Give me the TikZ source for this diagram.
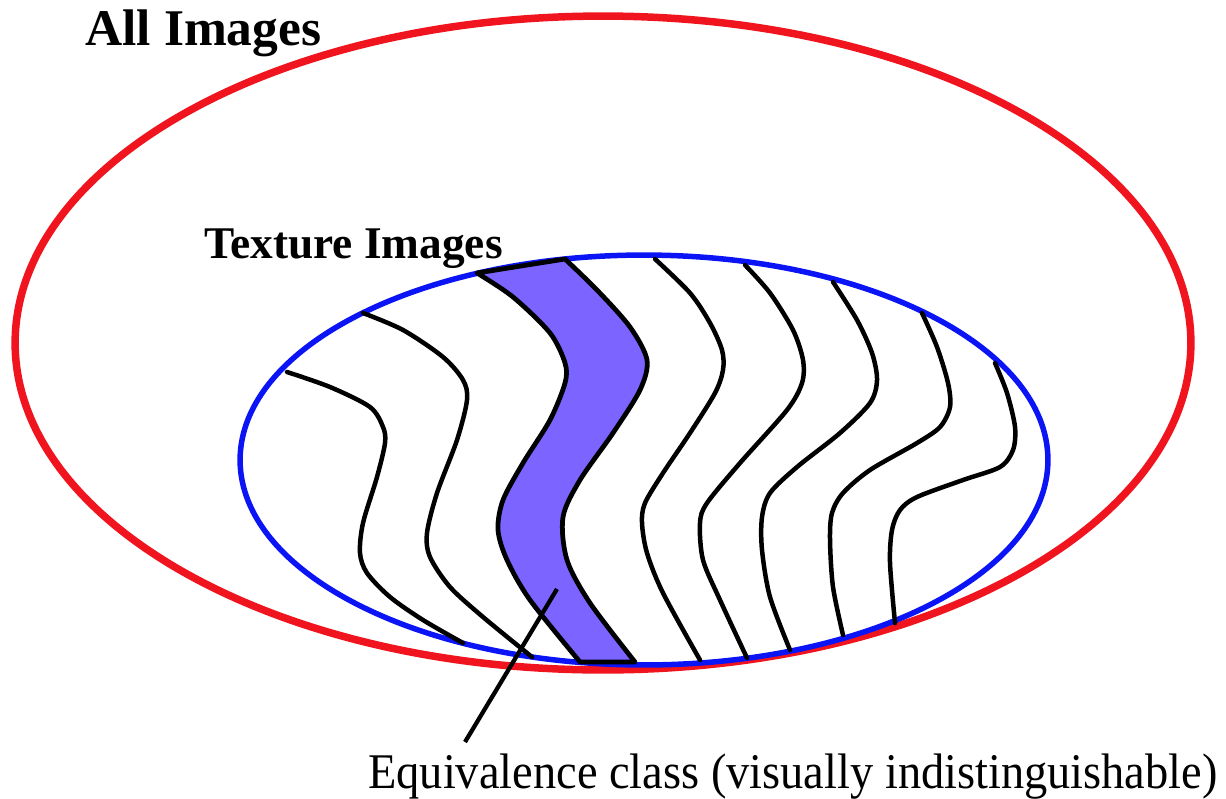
\documentclass[tikz,border=0pt]{standalone}
\usepackage{fontspec}
\setmainfont{Liberation Serif}
\usetikzlibrary{calc}
\definecolor{ringred}{HTML}{F0141E}
\definecolor{ringblue}{HTML}{0A14F5}
\definecolor{bandfill}{HTML}{7B64FF}
\tikzset{
  allring/.style={draw=ringred,line width=0.15cm},
  texring/.style={draw=ringblue,line width=0.11cm},
  wave/.style={draw=black,line width=0.09cm,line cap=round},
  band/.style={fill=bandfill,draw=black,line width=0.095cm,line join=round},
  pointer/.style={draw=black,line width=0.085cm},
  bigbold/.style={font=\fontsize{29.3}{34}\selectfont\bfseries,inner sep=0pt,anchor=base west},
  setlbl/.style={font=\fontsize{25.8}{30}\selectfont\bfseries,inner sep=0pt,anchor=base west},
  eqlbl/.style={font=\fontsize{28.4}{33}\selectfont,inner sep=0pt,anchor=base west,xscale=0.93},
}
\begin{document}
\begin{tikzpicture}[x=0.02cm,y=-0.02cm]
  \useasboundingbox (0,0) rectangle (1226,798);
  % the two sets
  \coordinate (allc) at (603,343);
  \coordinate (texc) at (644,460);
  \draw[allring] (allc) ellipse [x radius=11.76cm, y radius=6.54cm];
  \draw[texring] (texc) ellipse [x radius=8.08cm, y radius=4.1cm];
  % shaded equivalence class
  \filldraw[band] plot[smooth] coordinates {(477,273) (513,297) (550,333) (565,363) (565,383) (550,420) (523,463) (503,500) (498,530) (507,560) (530,600) (580,662)}
    -- plot[smooth] coordinates {(635,662) (590,603) (567,560) (563,517) (580,480) (613,433) (640,390) (647,360) (630,327) (597,290) (565,259)}
    -- cycle;
  % class boundaries
  \draw[wave] plot[smooth] coordinates {(287,372) (330,387) (370,407) (383,427) (385,443) (377,477) (363,523) (360,553) (367,573) (390,597) (423,620) (463,643)};
  \draw[wave] plot[smooth] coordinates {(363,313) (403,330) (443,357) (463,380) (467,400) (457,440) (437,493) (427,533) (430,557) (450,587) (483,617) (532,657)};
  \draw[wave] plot[smooth] coordinates {(655,259) (690,293) (710,323) (722,350) (723,370) (715,393) (690,433) (663,473) (645,503) (642,523) (647,553) (663,593) (700,660)};
  \draw[wave] plot[smooth] coordinates {(745,265) (770,293) (793,330) (803,360) (802,383) (787,410) (740,463) (707,503) (700,523) (703,560) (720,600) (747,658)};
  \draw[wave] plot[smooth] coordinates {(833,282) (857,320) (872,353) (877,380) (870,403) (840,433) (797,467) (770,493) (762,517) (762,550) (770,597) (790,650)};
  \draw[wave] plot[smooth] coordinates {(922,313) (937,347) (948,383) (950,407) (940,427) (917,443) (870,470) (843,493) (832,513) (830,540) (833,587) (843,635)};
  \draw[wave] plot[smooth] coordinates {(995,363) (1007,393) (1015,427) (1013,450) (1000,467) (963,480) (917,497) (900,510) (892,530) (890,563) (895,623)};
  % labels
  \node[bigbold] (all) at (85,45) {All Images};
  \node[setlbl] (texture) at (204,258) {Texture Images};
  \node[eqlbl] (eqlabel) at (368,788) {Equivalence class (visually indistinguishable)};
  \coordinate (ptrtip) at (557,589);
  \coordinate (ptrend) at (465,742);
  \draw[pointer] (ptrtip) -- (ptrend);
\end{tikzpicture}
\end{document}
